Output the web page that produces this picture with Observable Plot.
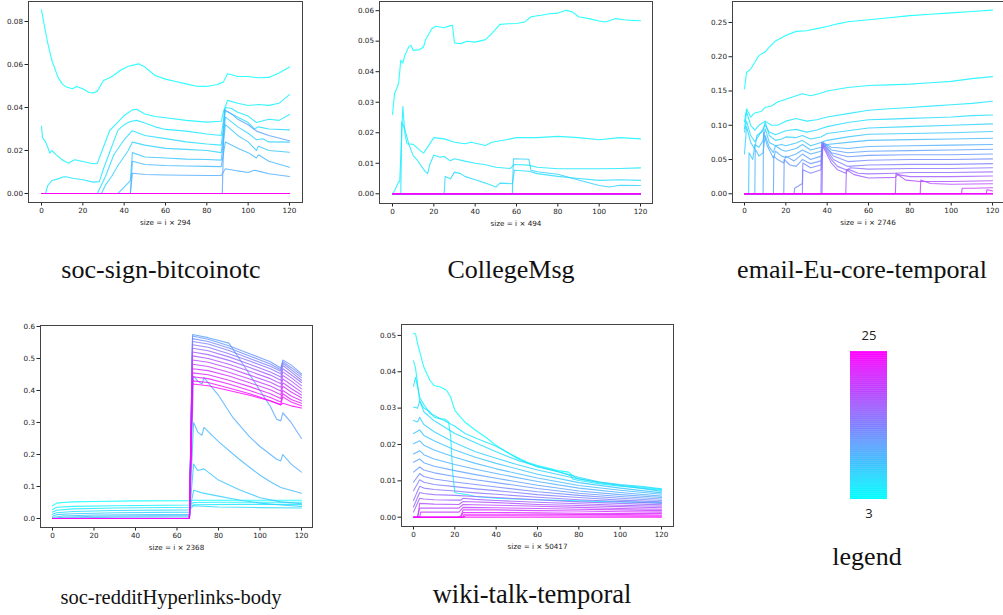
<!DOCTYPE html>
<html><head><meta charset="utf-8">
<script src="https://cdn.jsdelivr.net/npm/d3@7"></script>
<script src="https://cdn.jsdelivr.net/npm/@observablehq/plot@0.6"></script>
<style>
body{margin:0;background:#fff;}
#wrap{position:relative;width:1003px;height:615px;overflow:hidden;background:#fff;}
.p{position:absolute;}
.t{position:absolute;font-family:"Liberation Serif","DejaVu Serif",serif;color:#111;line-height:1;white-space:nowrap;transform:translateX(-50%);}
</style></head><body><div id="wrap"></div>
<script>
// ---------- data ----------
const xTicks = [0, 20, 40, 60, 80, 100, 120];
const kDomain = [3, 25];
const flat = [[0, 0], [120, 0]];

// soc-sign-bitcoinotc
const btcLabel = "size = i × 294";
const btcYTicks = [0, 0.02, 0.04, 0.06, 0.08];
const btcK = [3,4,5,6,7,8,9,10,11,12,13,14,15,16,17,18,19,20,21,22,23,24,25];
const btcLines = [
 [[0,0.0854],[1,0.08],[2,0.075],[3,0.07],[5,0.062],[8,0.054],[10,0.051],[12,0.0495],[15,0.0487],[17,0.0498],[20,0.0487],[23,0.047],[25,0.0468],[27,0.0476],[30,0.0526],[33,0.0538],[35,0.055],[38,0.0572],[42,0.0592],[47,0.0603],[50,0.0588],[55,0.0549],[60,0.0532],[65,0.0521],[70,0.051],[75,0.0499],[80,0.0498],[85,0.0507],[88,0.0518],[90,0.0557],[92,0.0552],[95,0.0544],[100,0.0544],[105,0.0538],[110,0.054],[115,0.056],[120,0.0588]],
 [[0,0.0312],[0.5,0.026],[2,0.0239],[3,0.0216],[4,0.0188],[5,0.02],[7,0.0181],[10,0.0157],[13,0.0141],[16,0.0157],[20,0.0149],[25,0.0138],[27,0.014],[30,0.0216],[33,0.0293],[37,0.0332],[40,0.0363],[44,0.0389],[46,0.0392],[50,0.037],[55,0.0358],[60,0.0352],[70,0.034],[80,0.0332],[87,0.0336],[88,0.0378],[90,0.0433],[95,0.042],[100,0.0409],[105,0.0414],[110,0.041],[115,0.042],[120,0.046]],
 [[0,0],[2,0],[3,0.0037],[5,0.006],[8,0.0068],[10,0.0076],[12,0.0078],[15,0.0071],[20,0.0064],[25,0.0053],[28,0.0055],[30,0.0115],[33,0.0192],[37,0.0295],[40,0.032],[43,0.0335],[46,0.034],[50,0.0328],[55,0.031],[60,0.0298],[70,0.029],[80,0.0277],[87,0.027],[89,0.04],[92,0.0395],[95,0.0378],[100,0.036],[104,0.033],[110,0.0345],[115,0.034],[120,0.0367]],
 [[0,0],[27,0],[29,0.004],[31,0.008],[35,0.018],[40,0.025],[44,0.0292],[50,0.027],[60,0.0255],[70,0.024],[80,0.023],[87,0.0225],[89,0.0385],[95,0.0355],[100,0.033],[103,0.03],[105,0.031],[110,0.03],[120,0.0296]],
 [[0,0],[29,0],[31,0.004],[34,0.008],[37,0.013],[42,0.02],[44,0.0239],[50,0.0225],[60,0.021],[70,0.0205],[80,0.02],[87,0.019],[89,0.0355],[95,0.031],[100,0.028],[104,0.025],[107,0.0255],[110,0.024],[120,0.0239]],
 [[0,0],[37,0],[40,0.003],[43,0.006],[44,0.019],[50,0.017],[60,0.0165],[70,0.016],[80,0.0158],[87,0.0155],[89,0.032],[95,0.027],[100,0.024],[104,0.02],[105,0.022],[110,0.02],[120,0.0192]],
 [[0,0],[43,0],[44,0.015],[50,0.0135],[60,0.013],[70,0.0128],[80,0.0126],[87,0.0125],[89,0.024],[95,0.021],[100,0.019],[104,0.0165],[105,0.018],[110,0.015],[120,0.0122]],
 [[0,0],[43,0],[44,0.0094],[50,0.0088],[60,0.0086],[70,0.0085],[80,0.0084],[87,0.0084],[89,0.0115],[95,0.0105],[100,0.0098],[103,0.0108],[105,0.0104],[110,0.0092],[120,0.0079]],
 [[0,0],[87.5,0],[88.5,0.039],[92,0.037],[95,0.0345],[100,0.032],[104,0.029],[110,0.027],[120,0.0245]]
];

// CollegeMsg
const colLabel = "size = i × 494";
const colYTicks = [0, 0.01, 0.02, 0.03, 0.04, 0.05, 0.06];
const colK = btcK;
const colLines = [
 [[0,0.026],[1,0.0328],[2,0.0344],[3,0.0363],[4,0.0437],[5,0.0428],[6,0.0454],[8,0.0483],[9,0.0486],[10,0.047],[13,0.0472],[15,0.0481],[16,0.0505],[19,0.0541],[21,0.0549],[25,0.0544],[28,0.0551],[29,0.0552],[30,0.0494],[33,0.0492],[36,0.05],[40,0.0497],[45,0.0505],[48,0.0525],[52,0.0555],[56,0.0557],[60,0.0558],[64,0.0563],[67,0.058],[72,0.0585],[76,0.059],[80,0.0592],[84,0.0601],[87,0.0596],[90,0.058],[95,0.0574],[100,0.0566],[103,0.0563],[108,0.0574],[112,0.057],[116,0.0568],[120,0.0567]],
 [[0,0],[1,0.001],[3,0.004],[3.5,0.004],[5,0.0286],[6,0.0197],[7,0.0164],[10,0.0162],[13,0.0144],[15,0.0133],[17,0.0153],[20,0.0184],[25,0.018],[30,0.0169],[35,0.0164],[38,0.0169],[45,0.0158],[48,0.0169],[55,0.0177],[60,0.0184],[70,0.0184],[80,0.0188],[90,0.0184],[100,0.0177],[110,0.0184],[120,0.018]],
 [[0,0],[4,0],[4.5,0.0235],[6,0.021],[8,0.016],[10,0.0125],[12,0.011],[14,0.009],[16,0.0072],[17,0.0066],[18,0.0095],[20,0.0127],[23,0.012],[25,0.0122],[28,0.0108],[30,0.0115],[35,0.0107],[40,0.01],[45,0.0095],[50,0.0087],[57,0.0083],[59,0.0096],[66,0.0094],[70,0.0087],[80,0.0082],[90,0.0082],[100,0.0082],[110,0.0083],[120,0.0085]],
 [[0,0],[25,0],[25.5,0.0057],[28,0.0049],[30,0.0071],[33,0.0066],[35,0.0057],[40,0.0046],[45,0.0035],[50,0.0022],[52,0.0035],[58,0.0033],[59,0.0077],[66,0.0074],[70,0.0066],[80,0.0057],[90,0.005],[100,0.0044],[110,0.0046],[120,0.0044]],
 [[0,0],[58,0],[58.5,0.0115],[66,0.0113],[67,0.0077],[70,0.0072],[80,0.0064],[90,0.0045],[100,0.0027],[105,0.0022],[110,0.0028],[120,0.0027]]
];

// email-Eu-core-temporal
const emLabel = "size = i × 2746";
const emYTicks = [0, 0.05, 0.1, 0.15, 0.2, 0.25];
const emK = btcK;
const emLines = [
 [[0,0.153],[0.5,0.165],[1,0.177],[3,0.182],[5,0.192],[7,0.202],[10,0.207],[12,0.214],[15,0.223],[20,0.231],[25,0.237],[30,0.238],[35,0.241],[40,0.244],[45,0.248],[50,0.251],[60,0.254],[70,0.257],[80,0.26],[90,0.262],[100,0.264],[110,0.266],[120,0.268]],
 [[0,0.105],[1,0.124],[3,0.112],[5,0.118],[8,0.12],[10,0.126],[13,0.128],[16,0.134],[20,0.138],[25,0.143],[28,0.146],[32,0.143],[36,0.146],[40,0.15],[50,0.155],[60,0.158],[70,0.159],[80,0.16],[90,0.162],[100,0.164],[110,0.168],[120,0.171]],
 [[0,0.095],[1,0.12],[3,0.1],[5,0.093],[7,0.1],[10,0.106],[13,0.1],[16,0.1],[20,0.106],[25,0.11],[30,0.106],[35,0.108],[40,0.112],[50,0.117],[60,0.122],[70,0.124],[80,0.126],[90,0.128],[100,0.13],[110,0.132],[120,0.135]],
 [[0,0.09],[1,0.106],[3,0.085],[5,0.076],[8,0.09],[10,0.1],[12,0.09],[15,0.086],[20,0.092],[25,0.094],[30,0.09],[35,0.093],[40,0.098],[50,0.104],[60,0.108],[70,0.109],[80,0.11],[90,0.111],[100,0.112],[110,0.114],[120,0.115]],
 [[0,0.058],[1,0.098],[3,0.075],[5,0.065],[6,0.085],[9,0.092],[10,0.105],[12,0.085],[15,0.078],[18,0.08],[20,0.083],[25,0.082],[28,0.085],[32,0.08],[37,0.083],[40,0.088],[50,0.092],[60,0.096],[80,0.098],[100,0.1],[120,0.102]],
 [[0,0],[2,0],[2.2,0.06],[4,0.05],[5,0.072],[7,0.068],[9,0.078],[10,0.095],[12,0.075],[15,0.07],[18,0.072],[20,0.07],[25,0.074],[28,0.078],[32,0.07],[37,0.075],[40,0.078],[50,0.083],[60,0.087],[80,0.088],[100,0.089],[120,0.091]],
 [[0,0],[5,0],[5.2,0.065],[7,0.055],[9,0.06],[10,0.085],[12,0.068],[14,0.06],[15,0.07],[18,0.064],[20,0.062],[25,0.066],[28,0.072],[32,0.064],[37,0.068],[40,0.072],[50,0.075],[60,0.078],[80,0.079],[100,0.08],[120,0.081]],
 [[0,0],[9,0],[9.2,0.09],[11,0.07],[14,0.052],[15,0.062],[18,0.055],[20,0.053],[25,0.058],[28,0.064],[32,0.058],[37,0.062],[38,0.075],[42,0.068],[50,0.066],[60,0.069],[80,0.07],[100,0.071],[120,0.072]],
 [[0,0],[14,0],[14.2,0.055],[16,0.05],[19,0.045],[20,0.055],[24,0.048],[28,0.058],[32,0.05],[37,0.055],[38,0.075],[42,0.064],[50,0.06],[60,0.062],[80,0.063],[100,0.064],[120,0.065]],
 [[0,0],[19,0],[19.2,0.05],[22,0.042],[25,0.04],[28,0.05],[32,0.044],[37,0.048],[38,0.074],[42,0.06],[50,0.054],[60,0.056],[80,0.057],[100,0.057],[120,0.058]],
 [[0,0],[24,0],[24.3,0.008],[28,0.015],[28.2,0.045],[32,0.038],[37,0.042],[38,0.073],[43,0.055],[50,0.047],[60,0.049],[80,0.05],[100,0.05],[120,0.051]],
 [[0,0],[28,0],[28.2,0.035],[32,0.03],[37,0.035],[38,0.072],[43,0.05],[50,0.04],[60,0.042],[80,0.043],[100,0.043],[120,0.044]],
 [[0,0],[37,0],[37.3,0.075],[42,0.05],[45,0.04],[50,0.034],[51,0.038],[60,0.036],[80,0.037],[100,0.037],[120,0.038]],
 [[0,0],[37.5,0],[37.8,0.07],[42,0.045],[45,0.035],[49,0.03],[50,0.036],[55,0.03],[60,0.029],[73,0.03],[80,0.031],[100,0.031],[120,0.032]],
 [[0,0],[49,0],[49.3,0.035],[53,0.028],[60,0.023],[73,0.024],[74,0.028],[80,0.025],[100,0.025],[120,0.026]],
 [[0,0],[73,0],[73.3,0.03],[78,0.02],[85,0.018],[100,0.018],[120,0.019]],
 [[0,0],[85,0],[85.3,0.02],[90,0.015],[100,0.014],[120,0.0146]],
 [[0,0],[105,0],[105.3,0.008],[110,0.008],[120,0.0088]],
 [[0,0],[117,0],[117.3,0.006],[120,0.004]]
];

// soc-redditHyperlinks-body
const rdLabel = "size = i × 2368";
const rdYTicks = [0, 0.1, 0.2, 0.3, 0.4, 0.5, 0.6];
const rdK = btcK;
const rdLines = [
 [[0,0.04],[2,0.048],[5,0.05],[10,0.052],[20,0.053],[40,0.055],[66,0.056],[68,0.057],[80,0.057],[100,0.057],[120,0.057]],
 [[0,0.028],[2,0.035],[10,0.038],[30,0.04],[66,0.042],[68,0.05],[80,0.051],[100,0.051],[120,0.051]],
 [[0,0.02],[2,0.026],[10,0.03],[30,0.033],[66,0.035],[68,0.043],[90,0.044],[120,0.044]],
 [[0,0.013],[2,0.018],[10,0.022],[30,0.025],[66,0.027],[68,0.04],[80,0.036],[100,0.034],[120,0.033]],
 [[0,0.007],[2,0.012],[10,0.015],[30,0.018],[66,0.02],[68,0.088],[72,0.08],[80,0.07],[90,0.058],[100,0.048],[110,0.042],[120,0.038]],
 [[0,0.003],[5,0.008],[20,0.011],[66,0.013],[68,0.17],[70,0.15],[73,0.155],[80,0.12],[90,0.09],[100,0.065],[110,0.052],[120,0.046]],
 [[0,0],[5,0.004],[20,0.007],[66,0.009],[68,0.3],[70,0.27],[72,0.26],[73,0.285],[80,0.24],[90,0.185],[100,0.135],[105,0.115],[110,0.097],[120,0.079]],
 [[0,0],[10,0.002],[30,0.004],[66,0.005],[68,0.445],[70,0.43],[72,0.42],[73,0.44],[80,0.385],[87,0.315],[95,0.255],[100,0.225],[108,0.185],[110,0.18],[111,0.2],[115,0.17],[120,0.145]],
 [[0,0],[66,0],[67.5,0.575],[75,0.565],[85,0.548],[90,0.5],[95,0.45],[100,0.4],[105,0.35],[108,0.31],[110,0.305],[111,0.33],[115,0.3],[120,0.25]]
];
// cluster lines k = 12..25 sharing one x list
const rdClusterX = [0, 66, 67.5, 75, 85, 95, 105, 110, 111, 115, 120];
const rdClusterY = [
 [0,0,0.57,0.56,0.54,0.515,0.49,0.47,0.495,0.48,0.452],
 [0,0,0.562,0.553,0.533,0.508,0.483,0.465,0.49,0.472,0.447],
 [0,0,0.553,0.545,0.525,0.5,0.476,0.46,0.485,0.465,0.44],
 [0,0,0.543,0.535,0.515,0.492,0.468,0.452,0.478,0.458,0.432],
 [0,0,0.532,0.524,0.505,0.482,0.458,0.442,0.468,0.449,0.425],
 [0,0,0.52,0.512,0.494,0.472,0.448,0.432,0.458,0.44,0.415],
 [0,0,0.508,0.5,0.482,0.46,0.437,0.421,0.447,0.43,0.405],
 [0,0,0.495,0.488,0.47,0.448,0.426,0.41,0.436,0.418,0.395],
 [0,0,0.482,0.475,0.457,0.436,0.414,0.398,0.424,0.406,0.386],
 [0,0,0.468,0.462,0.445,0.424,0.402,0.387,0.413,0.395,0.377],
 [0,0,0.455,0.449,0.432,0.412,0.39,0.375,0.4,0.383,0.368],
 [0,0,0.443,0.437,0.42,0.4,0.378,0.364,0.39,0.372,0.36],
 [0,0,0.43,0.425,0.408,0.39,0.368,0.356,0.38,0.364,0.352],
 [0,0,0.42,0.415,0.4,0.385,0.367,0.355,0.36,0.352,0.345]
];

// wiki-talk-temporal
const wkLabel = "size = i × 50417";
const wkYTicks = [0, 0.01, 0.02, 0.03, 0.04, 0.05];
const wkK = btcK;
const wkLines = [
 [[0,0.0506],[1,0.0504],[2,0.0477],[5,0.0413],[8,0.0376],[10,0.0362],[13,0.0358],[16,0.0349],[18,0.033],[20,0.0294],[22,0.028],[25,0.0261],[30,0.0239],[35,0.022],[40,0.0197],[45,0.0179],[50,0.0165],[55,0.0151],[60,0.0142],[70,0.0128],[75,0.0124],[78,0.011],[80,0.0106],[90,0.0094],[100,0.0087],[110,0.0083],[120,0.0076]],
 [[0,0.043],[1,0.041],[3,0.032],[5,0.03],[8,0.029],[10,0.0275],[13,0.027],[15,0.027],[17,0.0262],[18,0.022],[19,0.012],[20,0.0068],[22,0.0065],[25,0.0063],[30,0.0057],[40,0.0052],[50,0.005],[60,0.0048],[80,0.0045],[100,0.0042],[120,0.004]],
 [[0,0.036],[1,0.0385],[3,0.033],[5,0.031],[8,0.0285],[10,0.028],[15,0.0265],[20,0.025],[25,0.023],[30,0.0218],[40,0.0195],[45,0.018],[50,0.0162],[55,0.015],[60,0.0138],[70,0.0125],[76,0.0115],[77,0.0105],[80,0.0101],[90,0.0092],[100,0.0085],[110,0.008],[120,0.0074]],
 [[0,0.0303],[2,0.03],[3,0.032],[5,0.029],[10,0.0265],[15,0.0248],[20,0.023],[30,0.0205],[40,0.018],[50,0.0157],[60,0.014],[70,0.0125],[80,0.011],[90,0.0097],[100,0.009],[110,0.0085],[120,0.0078]],
 [[0,0.0266],[2,0.0262],[3,0.0275],[5,0.0255],[10,0.0235],[20,0.0205],[30,0.018],[40,0.0162],[50,0.0145],[60,0.013],[80,0.0105],[100,0.0088],[120,0.0071]],
 [[0,0.023],[3,0.024],[5,0.0225],[10,0.021],[20,0.0185],[30,0.0165],[40,0.0148],[60,0.0118],[80,0.0095],[100,0.008],[120,0.0067]],
 [[0,0.0202],[3,0.021],[5,0.0198],[10,0.0185],[20,0.0165],[30,0.0148],[40,0.0133],[60,0.0108],[80,0.0087],[100,0.0074],[120,0.0063]],
 [[0,0.0174],[3,0.0183],[5,0.0172],[10,0.016],[20,0.0145],[30,0.0132],[40,0.012],[60,0.0098],[80,0.008],[100,0.0068],[120,0.0058]],
 [[0,0.0151],[3,0.016],[5,0.015],[10,0.014],[20,0.0128],[30,0.0117],[40,0.0107],[60,0.0088],[80,0.0072],[100,0.0062],[120,0.0054]],
 [[0,0.0124],[3,0.0138],[5,0.013],[10,0.0122],[20,0.0112],[30,0.0103],[40,0.0095],[60,0.0079],[80,0.0066],[100,0.0057],[120,0.005]],
 [[0,0.0096],[3,0.012],[5,0.0112],[10,0.0105],[20,0.0097],[30,0.009],[40,0.0083],[60,0.007],[80,0.006],[100,0.0052],[120,0.0046]],
 [[0,0.0073],[3,0.0103],[5,0.0096],[10,0.009],[20,0.0084],[30,0.0078],[40,0.0073],[60,0.0062],[80,0.0054],[100,0.0047],[120,0.0042]],
 [[0,0.0046],[3,0.0085],[5,0.008],[10,0.0076],[20,0.0072],[30,0.0067],[40,0.0063],[60,0.0055],[80,0.0048],[100,0.0043],[120,0.0038]],
 [[0,0.0028],[3,0.0068],[5,0.0065],[10,0.0062],[20,0.006],[30,0.0057],[40,0.0054],[60,0.0048],[80,0.0042],[100,0.0038],[120,0.0034]],
 [[0,0.0014],[3,0.0052],[5,0.005],[10,0.0048],[20,0.0047],[23,0.0047],[24,0.0052],[30,0.0049],[40,0.0046],[60,0.0041],[80,0.0037],[100,0.0033],[120,0.003]],
 [[0,0],[2,0],[3,0.0038],[10,0.0036],[22,0.0035],[24,0.0043],[40,0.004],[60,0.0035],[80,0.0032],[100,0.0029],[120,0.0026]],
 [[0,0],[2,0],[3,0.0025],[10,0.0025],[22,0.0025],[24,0.0035],[40,0.0033],[60,0.003],[80,0.0027],[100,0.0024],[120,0.0022]],
 [[0,0],[3,0],[3.5,0.0014],[22,0.0014],[24,0.0027],[40,0.0026],[60,0.0024],[80,0.0022],[100,0.002],[120,0.0018]],
 [[0,0],[22,0],[23,0.0005],[24,0.002],[40,0.002],[60,0.0018],[80,0.0017],[100,0.0015],[120,0.0014]],
 [[0,0],[23,0],[24,0.0013],[40,0.0013],[60,0.0012],[80,0.0011],[100,0.001],[120,0.001]],
 [[0,0],[24,0],[24.5,0.0008],[60,0.0008],[100,0.0007],[120,0.0006]],
 [[0,0],[24.5,0],[25,0.0004],[120,0.0003]]
];

const titles = [
 {text: "soc-sign-bitcoinotc", cx: 161, top: 257, size: 26},
 {text: "CollegeMsg", cx: 511, top: 257, size: 26},
 {text: "email-Eu-core-temporal", cx: 862, top: 257, size: 26},
 {text: "soc-redditHyperlinks-body", cx: 171, top: 587, size: 20.5},
 {text: "wiki-talk-temporal", cx: 532, top: 581, size: 26.5},
 {text: "legend", cx: 867, top: 544, size: 26}
];

// ---------- drawing ----------
const wrap = document.getElementById("wrap");
const colorScale = {type: "linear", domain: kDomain, range: ["#00ffff", "#ff00ff"], interpolate: "rgb"};

function rowsFrom(ks, lines) {
  const rows = [];
  ks.forEach((k, i) => {
    const pts = lines[i] || flat;
    pts.forEach(([x, y]) => rows.push({k, x, y}));
  });
  return rows;
}

function panel(o) {
  const p = Plot.plot({
    width: o.w, height: o.h,
    marginTop: o.mt, marginBottom: o.mb, marginLeft: o.ml, marginRight: o.mr,
    style: {fontFamily: "DejaVu Sans, sans-serif", fontSize: "7.2px", color: "#222", background: "transparent", overflow: "visible"},
    x: {domain: o.xd, ticks: xTicks, tickSize: 3.5, tickPadding: 2, label: o.label, labelAnchor: "center", labelOffset: 22, labelArrow: "none"},
    y: {domain: o.yd, ticks: o.yt, tickFormat: d3.format(o.fmt), tickSize: 3.5, tickPadding: 2, label: null},
    color: colorScale,
    marks: [
      Plot.line(o.rows, {x: "x", y: "y", z: "k", stroke: "k", strokeWidth: 1.1, strokeOpacity: 0.82}),
      Plot.frame({stroke: "#444", strokeWidth: 1})
    ]
  });
  p.classList.add("p");
  p.style.left = o.left + "px";
  p.style.top = o.top + "px";
  wrap.appendChild(p);
}

panel({left: 0, top: 0, w: 310, h: 230, mt: 1, mb: 28, ml: 28, mr: 8,
  xd: [-6.29, 126.3], yd: [-0.00419, 0.0893], yt: btcYTicks, fmt: ".2f", label: btcLabel,
  rows: rowsFrom(btcK, btcLines)});
panel({left: 340, top: 0, w: 320, h: 230, mt: 1, mb: 27, ml: 39, mr: 8,
  xd: [-6.29, 125.8], yd: [-0.00318, 0.063], yt: colYTicks, fmt: ".2f", label: colLabel,
  rows: rowsFrom(colK, colLines)});
panel({left: 690, top: 0, w: 313, h: 230, mt: 1, mb: 28, ml: 42, mr: 0,
  xd: [-5.8, 125.3], yd: [-0.0127, 0.2806], yt: emYTicks, fmt: ".2f", label: emLabel,
  rows: rowsFrom(emK, emLines)});

const rdAll = rdLines.concat(rdClusterY.map(ys => rdClusterX.map((x, i) => [x, ys[i]])));
panel({left: 0, top: 315, w: 320, h: 240, mt: 10, mb: 28, ml: 40, mr: 8,
  xd: [-5.78, 125.3], yd: [-0.0281, 0.603], yt: rdYTicks, fmt: ".1f", label: rdLabel,
  rows: rowsFrom(rdK, rdAll)});
panel({left: 360, top: 315, w: 320, h: 240, mt: 9, mb: 29, ml: 41, mr: 7,
  xd: [-5.8, 125.8], yd: [-0.00256, 0.053], yt: wkYTicks, fmt: ".2f", label: wkLabel,
  rows: rowsFrom(wkK, wkLines)});

// colour bar legend
const legendSteps = d3.range(kDomain[0], kDomain[1], 0.1);
const leg = Plot.plot({
  width: 100, height: 200, marginTop: 31, marginBottom: 21, marginLeft: 30, marginRight: 33,
  style: {fontFamily: "Open Sans, sans-serif", fontSize: "13px", color: "#222", background: "transparent", overflow: "visible"},
  x: {domain: [0, 1], axis: null},
  y: {domain: kDomain, axis: null},
  color: colorScale,
  marks: [
    Plot.rect(legendSteps, {x1: 0, x2: 1, y1: d => d, y2: d => Math.min(d + 0.15, kDomain[1]), fill: d => d + 0.05}),
    Plot.text([kDomain[1]], {x: 0.5, y: d => d, text: d => String(d), dy: -16, fill: "#222"}),
    Plot.text([kDomain[0]], {x: 0.5, y: d => d, text: d => String(d), dy: 14, fill: "#222"})
  ]
});
leg.classList.add("p");
leg.style.left = "820px";
leg.style.top = "320px";
wrap.appendChild(leg);

for (const t of titles) {
  const d = document.createElement("div");
  d.className = "t";
  d.textContent = t.text;
  d.style.left = t.cx + "px";
  d.style.top = t.top + "px";
  d.style.fontSize = t.size + "px";
  wrap.appendChild(d);
}
</script></body></html>
